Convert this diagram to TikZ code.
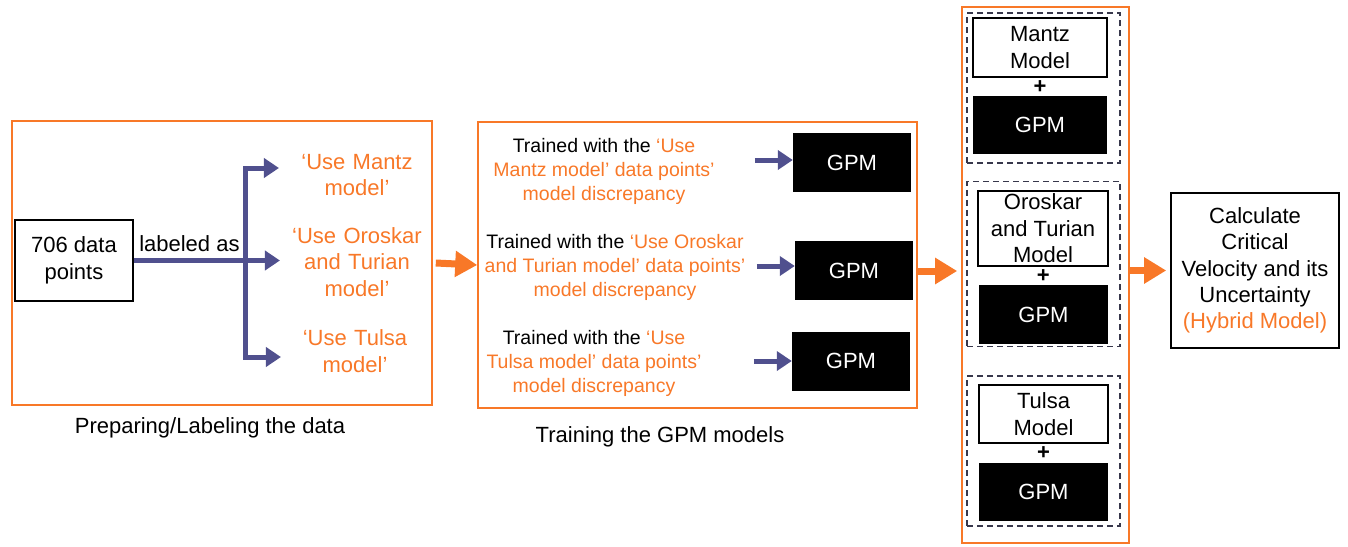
\documentclass[tikz,border=0pt]{standalone}
\usepackage{fontspec}
\setmainfont{Liberation Sans}
\usetikzlibrary{arrows.meta,positioning}
\definecolor{orng}{RGB}{248,120,40}
\definecolor{navy}{RGB}{80,80,142}
\definecolor{grpc}{RGB}{55,55,75}
\begin{document}
\begin{tikzpicture}[x=1pt,y=-1pt,line cap=butt,line join=miter,font=\fontsize{22}{26.4}\selectfont]
	\tikzset{stage/.style={draw=orng,line width=1.6pt,inner sep=0pt},
		wbox/.style={draw=black,line width=1.6pt,fill=white,align=center,inner sep=0pt},
		gpm/.style={fill=black,text=white,inner sep=0pt},
		grp/.style={draw=grpc,line width=1.3pt,dash pattern=on 6pt off 4pt,inner sep=0pt},
		blu/.style={draw=navy,line width=5pt,-{Triangle[length=15pt,width=19pt]}},
		big/.style={draw=orng,line width=7pt,-{Triangle[length=22pt,width=25pt]}},
		lbl/.style={text=orng,align=center,text width=135pt},
		trn/.style={align=center,font=\fontsize{19.5}{24}\selectfont}}
	\useasboundingbox (0,0) rectangle (1348,546);
	% preparing / labeling
	\node[stage,minimum width=420pt,minimum height=284pt] (prep) at (222,263) {};
	\node[wbox,minimum width=118pt,minimum height=81pt] (data) at (74,260.5) {706 data\\points};
	\node[lbl] (ma) at (357,175) {‘Use Mantz\\model’};
	\node[lbl] (ot) at (357,262) {‘Use Oroskar\\and Turian\\model’};
	\node[lbl] (tu) at (355,351) {‘Use Tulsa\\model’};
	\coordinate (fork) at (245,260.5);
	\draw[blu,shorten >=6pt] (data.east) -- (data.east -| ot.west);
	\draw[blu,shorten >=7pt] (fork) |- ([yshift=7pt]ma.west);
	\draw[blu,shorten >=3pt] (fork) |- ([yshift=-6pt]tu.west);
	\path (data.east) -- (fork) node[midway,above=5pt] (labd) {labeled as};
	\node (cap1) at (210,428) {Preparing/Labeling the data};
	% training
	\node[stage,minimum width=439pt,minimum height=286pt] (train) at (697.5,265) {};
	\node[trn] (t1) at (604,171) {Trained with the \textcolor{orng}{‘Use}\\\textcolor{orng}{Mantz model’ data points’}\\\textcolor{orng}{model discrepancy}};
	\node[trn] (t2) at (615,267) {Trained with the \textcolor{orng}{‘Use Oroskar}\\\textcolor{orng}{and Turian model’ data points’}\\\textcolor{orng}{model discrepancy}};
	\node[trn] (t3) at (594,363) {Trained with the \textcolor{orng}{‘Use}\\\textcolor{orng}{Tulsa model’ data points’}\\\textcolor{orng}{model discrepancy}};
	\node[gpm,minimum width=118pt,minimum height=59pt] (g1) at (852,162.5) {GPM};
	\node[gpm,minimum width=118pt,minimum height=59pt] (g2) at (854,270.5) {GPM};
	\node[gpm,minimum width=118pt,minimum height=59pt] (g3) at (851,361) {GPM};
	\foreach \i/\d in {1/2.5pt,2/4.5pt,3/0pt}{
		\draw[blu] ([xshift=-38pt,yshift=\d]g\i.west) -- ([yshift=\d]g\i.west);}
	\node (cap2) at (660,437) {Training the GPM models};
	% hybrid models
	\node[stage,minimum width=167pt,minimum height=536pt] (mods) at (1045.5,275) {};
	\node[grp,minimum width=153pt,minimum height=150pt] (d1) at (1043.5,88) {};
	\node[grp,minimum width=153pt,minimum height=165.5pt] (d2) at (1043.5,264) {};
	\node[grp,minimum width=153pt,minimum height=150pt] (d3) at (1043.5,451) {};
	\node[wbox,minimum width=134pt,minimum height=59pt] (w1) at (1040,47.5) {Mantz\\Model};
	\node[gpm,minimum width=134pt,minimum height=58pt] (h1) at (1040,125) {GPM};
	\node[wbox,minimum width=130pt,minimum height=75pt] (w2) at (1043,228.5) {Oroskar\\and Turian\\Model};
	\node[gpm,minimum width=129pt,minimum height=59pt] (h2) at (1043.5,314.5) {GPM};
	\node[wbox,minimum width=129pt,minimum height=58.5pt] (w3) at (1043.5,414) {Tulsa\\Model};
	\node[gpm,minimum width=129pt,minimum height=58.5pt] (h3) at (1043.5,492) {GPM};
	\foreach \i in {1,2,3}{
		\path (w\i.south) -- (h\i.north) node[midway,inner sep=0pt,font=\fontsize{22}{26}\bfseries\selectfont] (p\i) {+};}
	\node[wbox,minimum width=168pt,minimum height=155pt] (calc) at (1255,270.5) {Calculate\\Critical\\Velocity and its\\Uncertainty\\\textcolor{orng}{(Hybrid Model)}};
	% stage arrows
	\draw[big] ([xshift=3pt]prep.east) -- (train.west);
	\draw[big,shorten >=4pt] ([yshift=-6pt]train.east) -- ([yshift=-6pt]train.east -| mods.west);
	\draw[big,shorten >=4pt] (mods.east |- calc.west) -- (calc.west);
\end{tikzpicture}
\end{document}
